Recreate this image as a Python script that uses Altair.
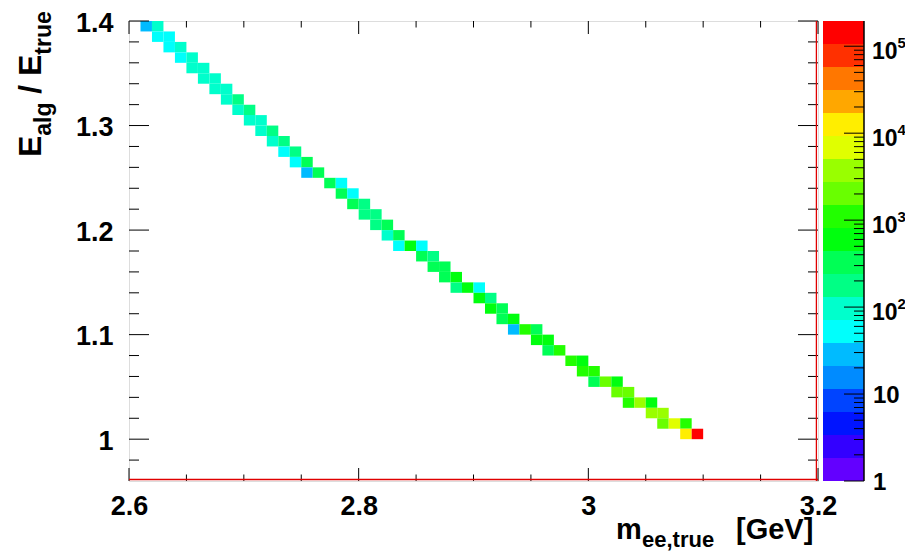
import math
import altair as alt
import pandas as pd

# ---- 2D histogram contents (bin lower edges, bin width 0.01 x 0.01) ----
m_lo = [2.61, 2.62, 2.62, 2.63, 2.63, 2.64, 2.64, 2.65, 2.65, 2.66,
        2.66, 2.67, 2.67, 2.68, 2.68, 2.69, 2.69, 2.70, 2.70, 2.71,
        2.71, 2.72, 2.72, 2.73, 2.73, 2.74, 2.74, 2.75, 2.75, 2.76,
        2.77, 2.78, 2.78, 2.79, 2.79, 2.80, 2.80, 2.81, 2.81, 2.82,
        2.82, 2.83, 2.83, 2.84, 2.85, 2.85, 2.86, 2.86, 2.87, 2.87,
        2.88, 2.88, 2.89, 2.90, 2.90, 2.91, 2.91, 2.92, 2.92, 2.93,
        2.93, 2.94, 2.95, 2.95, 2.96, 2.96, 2.97, 2.98, 2.99, 2.99,
        3.00, 3.00, 3.01, 3.02, 3.02, 3.03, 3.03, 3.04, 3.05, 3.05,
        3.06, 3.06, 3.07, 3.08, 3.08, 3.09]
r_lo = [1.39, 1.39, 1.38, 1.38, 1.37, 1.37, 1.36, 1.36, 1.35, 1.35,
        1.34, 1.34, 1.33, 1.33, 1.32, 1.32, 1.31, 1.31, 1.30, 1.30,
        1.29, 1.29, 1.28, 1.28, 1.27, 1.27, 1.26, 1.26, 1.25, 1.25,
        1.24, 1.24, 1.23, 1.23, 1.22, 1.22, 1.21, 1.21, 1.20, 1.20,
        1.19, 1.19, 1.18, 1.18, 1.18, 1.17, 1.17, 1.16, 1.16, 1.15,
        1.15, 1.14, 1.14, 1.14, 1.13, 1.13, 1.12, 1.12, 1.11, 1.11,
        1.10, 1.10, 1.10, 1.09, 1.09, 1.08, 1.08, 1.07, 1.07, 1.06,
        1.06, 1.05, 1.05, 1.05, 1.04, 1.04, 1.03, 1.03, 1.03, 1.02,
        1.02, 1.01, 1.01, 1.01, 1.00, 1.00]
counts = [28, 90, 50, 55, 48, 88, 52, 92, 98, 100,
          95, 105, 97, 110, 100, 150, 105, 160, 112, 118,
          108, 170, 115, 185, 62, 190, 60, 300, 32, 320,
          340, 58, 330, 60, 350, 200, 210, 220, 190, 360,
          120, 350, 65, 650, 62, 380, 200, 370, 400, 390,
          700, 220, 720, 66, 680, 230, 700, 290, 300, 750,
          35, 1000, 330, 620, 700, 280, 1100, 1050, 650, 1200,
          1250, 380, 2100, 700, 1900, 2200, 1300, 3600, 700, 3500,
          4000, 2300, 6500, 1200, 13000, 195000]

# ROOT "pretty" palette sampled at 20 contour levels
palette = ["#6300FF", "#3300FF", "#0014FF", "#0044FF", "#008BFF",
           "#00BBFF", "#00FFFC", "#00FFCC", "#00FF85", "#00FF55",
           "#00FF0E", "#22FF00", "#69FF00", "#99FF00", "#E0FF00",
           "#FFEE00", "#FFA700", "#FF7700", "#FF3000", "#FF0000"]

x_major = [2.6, 2.8, 3.0, 3.2]
x_minor = [2.65, 2.7, 2.75, 2.85, 2.9, 2.95, 3.05, 3.1, 3.15]
y_major = [1.0, 1.1, 1.2, 1.3, 1.4]
y_minor = [0.98, 1.02, 1.04, 1.06, 1.08, 1.12, 1.14, 1.16, 1.18,
           1.22, 1.24, 1.26, 1.28, 1.32, 1.34, 1.36, 1.38]
cbar_decades = [1, 10, 100, 1000, 10000, 100000]
cbar_base = ["1", "10", "10", "10", "10", "10"]
cbar_exp = ["", "", "2", "3", "4", "5"]

W, H = 689, 460
FONT = "Liberation Sans"
zmax = max(counts)
L = math.log10(zmax)
NLEV = len(palette)
cbar_minor = [d * k for d in cbar_decades for k in range(2, 10) if d * k <= zmax]

xs = alt.Scale(domain=[2.6, 3.2], nice=False, zero=False)
ys = alt.Scale(domain=[0.96, 1.4], nice=False, zero=False)
cs = alt.Scale(type="quantize", domain=[0, L], range=palette)
cbs = alt.Scale(type="log", domain=[1, zmax], nice=False)

x_axis = alt.Axis(values=x_major, format="~g", ticks=False, domain=False, grid=False, title=None,
                  labelFont=FONT, labelFontSize=27, labelFontWeight="bold", labelColor="black",
                  labelPadding=12, labelFlush=False, labelOverlap=False)
y_axis = alt.Axis(values=y_major, format="~g", ticks=False, domain=False, grid=False, title=None,
                  labelFont=FONT, labelFontSize=27, labelFontWeight="bold", labelColor="black",
                  labelPadding=16, labelFlush=False, labelOverlap=False, labelOffset=2)

one = pd.DataFrame({"a": [0]})

heat = alt.Chart(pd.DataFrame({"m": m_lo, "r": r_lo, "n": counts})).transform_calculate(
    m2="datum.m + 0.01", r2="datum.r + 0.01", lg="log(datum.n) / LN10"
).mark_rect().encode(
    x=alt.X("m:Q", scale=xs, axis=x_axis),
    x2="m2:Q",
    y=alt.Y("r:Q", scale=ys, axis=y_axis),
    y2="r2:Q",
    color=alt.Color("lg:Q", scale=cs, legend=None),
)


def xticks(vals, y0, y1):
    return alt.Chart(pd.DataFrame({"v": vals})).mark_rule(color="black", strokeWidth=1).encode(
        x=alt.X("v:Q", scale=xs, axis=x_axis), y=alt.value(y0), y2=alt.value(y1))


def yticks(vals, x0, x1):
    return alt.Chart(pd.DataFrame({"v": vals})).mark_rule(color="black", strokeWidth=1).encode(
        y=alt.Y("v:Q", scale=ys, axis=y_axis), x=alt.value(x0), x2=alt.value(x1))


ticks = [
    xticks(x_major, H, H - 13), xticks(x_minor, H, H - 6.5),
    xticks(x_major, 0, 13), xticks(x_minor, 0, 6.5),
    yticks(y_major, 0, 20), yticks(y_minor, 0, 10),
    yticks(y_major, W, W - 20), yticks(y_minor, W, W - 10),
]

red_bottom = alt.Chart(one).mark_rule(color="#e00000", strokeWidth=1.3).encode(
    x=alt.value(0), x2=alt.value(W), y=alt.value(H - 1.5))
red_right = alt.Chart(one).mark_rule(color="#e00000", strokeWidth=1.3).encode(
    x=alt.value(W - 1.6), y=alt.value(0), y2=alt.value(H))


def txt(s, x, y, size, angle=0):
    return alt.Chart(one).mark_text(text=s, font=FONT, fontSize=size, fontWeight="bold",
                                    color="black", align="left", baseline="alphabetic",
                                    angle=angle).encode(x=alt.value(x), y=alt.value(y))


titles = [
    # x title: m_{ee,true} [GeV]
    txt("m", 487, 518, 29), txt("ee,true", 513, 526, 22), txt("[GeV]", 607, 518, 29),
    # y title: E_{alg} / E_{true}
    txt("E", -88, 136, 32, 270), txt("alg", -78, 114.7, 23, 270), txt("/", -88, 72.8, 32, 270),
    txt("E", -88, 55, 32, 270), txt("true", -78, 33.7, 23, 270),
]

main = alt.layer(heat, *ticks, red_bottom, red_right, *titles)

# ---- colour bar ----
bands = alt.Chart(pd.DataFrame({"k": list(range(NLEV))})).transform_calculate(
    lo=f"pow(10, datum.k * {L} / {NLEV})",
    hi=f"pow(10, (datum.k + 1) * {L} / {NLEV})",
    mid=f"(datum.k + 0.5) * {L} / {NLEV}",
).mark_rect().encode(
    y=alt.Y("lo:Q", scale=cbs, axis=None), y2="hi:Q",
    x=alt.value(694), x2=alt.value(735),
    color=alt.Color("mid:Q", scale=cs, legend=None),
)
cb_edge = alt.Chart(one).mark_rule(color="black", strokeWidth=1.5).encode(
    x=alt.value(735), y=alt.value(0), y2=alt.value(H))
cb_major = alt.Chart(pd.DataFrame({"v": cbar_decades})).mark_rule(color="black", strokeWidth=1).encode(
    y=alt.Y("v:Q", scale=cbs, axis=None), x=alt.value(735), x2=alt.value(715))
cb_minor = alt.Chart(pd.DataFrame({"v": cbar_minor})).mark_rule(color="black", strokeWidth=1).encode(
    y=alt.Y("v:Q", scale=cbs, axis=None), x=alt.value(735), x2=alt.value(725))

lab_df = pd.DataFrame({"v": cbar_decades, "b": cbar_base, "e": cbar_exp})
lab_plain = alt.Chart(lab_df).transform_filter("datum.e == ''").mark_text(
    font=FONT, fontSize=24, fontWeight="bold", color="black", align="left", baseline="middle", dy=2
).encode(y=alt.Y("v:Q", scale=cbs, axis=None), x=alt.value(744), text="b:N")
lab_pow = alt.Chart(lab_df).transform_filter("datum.e != ''").mark_text(
    font=FONT, fontSize=23, fontWeight="bold", color="black", align="left", baseline="middle", dy=6
).encode(y=alt.Y("v:Q", scale=cbs, axis=None), x=alt.value(743), text="b:N")
lab_exp = alt.Chart(lab_df).transform_filter("datum.e != ''").mark_text(
    font=FONT, fontSize=15, fontWeight="bold", color="black", align="left", baseline="middle", dy=-3
).encode(y=alt.Y("v:Q", scale=cbs, axis=None), x=alt.value(768.5), text="e:N")

cbar = alt.layer(bands, cb_edge, cb_major, cb_minor, lab_plain, lab_pow, lab_exp)

chart = alt.layer(main, cbar).resolve_scale(y="independent").properties(
    width=W, height=H,
    padding={"left": 121, "top": 13, "right": 87, "bottom": 70},
    autosize=alt.AutoSizeParams(type="none"),
).configure_view(stroke="black", strokeWidth=2).configure(background="white")

chart.save("out.html", embed_options={"renderer": "svg", "actions": False})
